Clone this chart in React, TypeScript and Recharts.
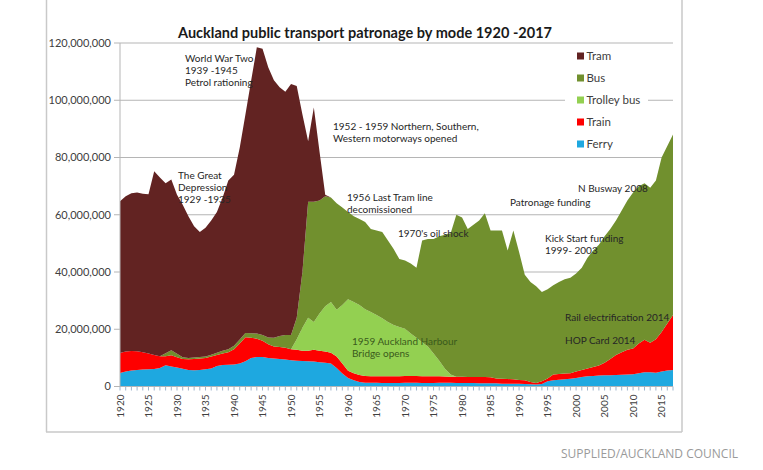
import React from 'react';
import { AreaChart, Area, XAxis, YAxis, CartesianGrid } from 'recharts';

// Patronage in millions of passenger trips per year
const years = [
  1920, 1921, 1922, 1923, 1924, 1925, 1926, 1927, 1928, 1929,
  1930, 1931, 1932, 1933, 1934, 1935, 1936, 1937, 1938, 1939,
  1940, 1941, 1942, 1943, 1944, 1945, 1946, 1947, 1948, 1949,
  1950, 1951, 1952, 1953, 1954, 1955, 1956, 1957, 1958, 1959,
  1960, 1961, 1962, 1963, 1964, 1965, 1966, 1967, 1968, 1969,
  1970, 1971, 1972, 1973, 1974, 1975, 1976, 1977, 1978, 1979,
  1980, 1981, 1982, 1983, 1984, 1985, 1986, 1987, 1988, 1989,
  1990, 1991, 1992, 1993, 1994, 1995, 1996, 1997, 1998, 1999,
  2000, 2001, 2002, 2003, 2004, 2005, 2006, 2007, 2008, 2009,
  2010, 2011, 2012, 2013, 2014, 2015, 2016, 2017,
];

const ferry = [
  4.7, 5.2, 5.6, 5.8, 5.9, 6.0, 6.1, 6.5, 7.4, 7.0,
  6.6, 6.2, 5.8, 5.7, 5.8, 6.0, 6.3, 7.2, 7.5, 7.6,
  7.7, 8.0, 8.8, 10.0, 10.3, 10.3, 10.0, 9.8, 9.6, 9.4,
  9.2, 9.0, 8.9, 8.8, 8.7, 8.5, 8.3, 8.0, 6.5, 4.5,
  3.0, 2.2, 1.6, 1.3, 1.3, 1.3, 1.2, 1.2, 1.2, 1.2,
  1.3, 1.3, 1.3, 1.2, 1.2, 1.2, 1.3, 1.3, 1.3, 1.2,
  1.2, 1.2, 1.2, 1.1, 1.1, 1.1, 1.1, 1.0, 1.0, 1.0,
  1.0, 0.9, 0.8, 0.7, 0.9, 1.8, 2.2, 2.4, 2.5, 2.7,
  3.0, 3.3, 3.6, 3.7, 3.8, 3.9, 3.9, 4.0, 4.1, 4.2,
  4.3, 4.6, 5.0, 5.0, 4.8, 5.2, 5.6, 5.8,
];

const train = [
  7.0, 7.0, 6.8, 6.5, 6.1, 5.5, 4.9, 4.1, 3.2, 3.9,
  3.6, 3.4, 3.7, 3.9, 4.0, 4.0, 4.2, 3.8, 4.0, 4.4,
  5.3, 7.0, 8.4, 7.0, 6.4, 5.7, 4.8, 4.2, 4.2, 4.1,
  3.8, 3.8, 3.6, 3.7, 4.1, 4.0, 3.9, 3.8, 4.0, 3.5,
  2.5, 2.4, 2.4, 2.4, 2.3, 2.3, 2.4, 2.4, 2.4, 2.4,
  2.4, 2.4, 2.4, 2.4, 2.4, 2.4, 2.3, 2.2, 2.1, 2.2,
  2.2, 2.1, 2.1, 2.2, 2.2, 2.1, 1.7, 1.7, 1.6, 1.5,
  1.3, 1.3, 0.8, 0.5, 0.9, 1.0, 2.0, 2.0, 2.0, 1.9,
  2.2, 2.5, 2.7, 3.1, 3.5, 4.4, 5.7, 7.0, 7.9, 8.6,
  9.0, 10.4, 11.3, 10.3, 11.7, 13.8, 16.4, 19.2,
];

const trolleyBus = [
  0, 0, 0, 0, 0, 0, 0, 0, 0, 0,
  0, 0, 0, 0, 0, 0, 0, 0, 0, 0,
  0, 0, 0, 0, 0, 0, 0, 0, 0, 0,
  0, 3.7, 8.0, 11.5, 9.7, 13.0, 15.8, 17.7, 16.3, 20.5,
  25.0, 24.9, 24.5, 23.3, 22.4, 21.4, 20.2, 18.9, 17.9, 17.2,
  16.5, 14.8, 13.3, 11.9, 10.4, 7.9, 5.4, 2.7, 0.8, 0,
  0, 0, 0, 0, 0, 0, 0, 0, 0, 0,
  0, 0, 0, 0, 0, 0, 0, 0, 0, 0,
  0, 0, 0, 0, 0, 0, 0, 0, 0, 0,
  0, 0, 0, 0, 0, 0, 0, 0,
];

const bus = [
  0, 0, 0, 0, 0, 0, 0, 0, 1.0, 1.8,
  1.2, 0.6, 0.5, 0.5, 0.5, 0.5, 0.6, 0.8, 1.0, 1.0,
  1.2, 1.4, 1.5, 1.6, 1.8, 2.0, 2.3, 3.0, 3.8, 4.5,
  5.0, 7.5, 19.5, 40.5, 42.0, 39.5, 38.5, 36.5, 37.2, 34.0,
  30.5, 30.0, 30.0, 30.5, 29.0, 29.5, 30.2, 28.5, 26.5, 23.7,
  23.8, 24.5, 24.5, 35.5, 37.5, 40.0, 43.5, 46.8, 49.3, 56.6,
  55.6, 51.7, 53.2, 54.7, 57.2, 51.3, 51.7, 51.8, 44.9, 52.0,
  44.7, 36.8, 34.9, 33.8, 31.2, 31.2, 31.2, 32.1, 33.0, 33.4,
  34.3, 35.7, 38.7, 40.7, 42.2, 44.2, 45.4, 47.0, 49.5, 52.2,
  54.5, 55.0, 54.7, 54.1, 55.5, 61.0, 62.0, 63.0,
];

const tram = [
  53.0, 54.3, 55.1, 55.5, 55.3, 55.7, 64.2, 62.4, 59.4, 59.6,
  55.6, 53.3, 49.5, 45.9, 43.7, 45.0, 46.9, 49.2, 53.5, 59.0,
  59.8, 67.0, 76.3, 88.2, 100.0, 100.0, 94.4, 90.0, 86.9, 85.0,
  87.7, 81.0, 55.0, 21.2, 33.0, 17.0, 0.5, 0, 0, 0,
  0, 0, 0, 0, 0, 0, 0, 0, 0, 0,
  0, 0, 0, 0, 0, 0, 0, 0, 0, 0,
  0, 0, 0, 0, 0, 0, 0, 0, 0, 0,
  0, 0, 0, 0, 0, 0, 0, 0, 0, 0,
  0, 0, 0, 0, 0, 0, 0, 0, 0, 0,
  0, 0, 0, 0, 0, 0, 0, 0,
];

const yTicks = [0, 20, 40, 60, 80, 100, 120];

const title = 'Auckland public transport patronage by mode 1920 -2017';

// stacking order bottom -> top
const SERIES = [
  { key: 'ferry', name: 'Ferry', color: '#1ea8e0', values: ferry },
  { key: 'train', name: 'Train', color: '#fe0000', values: train },
  { key: 'trolley', name: 'Trolley bus', color: '#93d051', values: trolleyBus },
  { key: 'bus', name: 'Bus', color: '#71902e', values: bus },
  { key: 'tram', name: 'Tram', color: '#622322', values: tram },
];

const annotations = [
  { x: 185, y: 62, lines: ['World War Two', '1939 -1945', 'Petrol rationing'], color: '#262626' },
  { x: 178, y: 178.5, lines: ['The Great', 'Depression', '1929 -1935'], color: '#262626' },
  { x: 333, y: 130, lines: ['1952 - 1959 Northern, Southern,', 'Western motorways opened'], color: '#262626' },
  { x: 347, y: 200.5, lines: ['1956 Last Tram line', 'decomissioned'], color: '#262626' },
  { x: 398, y: 236.5, lines: ["1970's oil shock"], color: '#262626' },
  { x: 510, y: 206, lines: ['Patronage funding'], color: '#262626' },
  { x: 578, y: 191.5, lines: ['N Busway 2008'], color: '#262626' },
  { x: 545, y: 241.5, lines: ['Kick Start funding', '1999- 2003'], color: '#262626' },
  { x: 565, y: 320.5, lines: ['Rail electrification 2014'], color: '#262626' },
  { x: 565, y: 344, lines: ['HOP Card 2014'], color: '#262626' },
  { x: 352, y: 345, lines: ['1959 Auckland Harbour', 'Bridge opens'], color: '#3a5a1c' },
];

const data = years.map((year, i) => {
  const row: Record<string, number> = { year };
  SERIES.forEach((s) => {
    row[s.key] = s.values[i];
  });
  return row;
});

const FONT = 'Lato, "Liberation Sans", Arial, sans-serif';

const XTick = (props: any) => {
  const { x, y, payload } = props;
  const v = payload.value as number;
  if (v % 5 !== 0) return <g />;
  return (
    <text
      x={x}
      y={y}
      transform={`rotate(-90, ${x}, ${y})`}
      textAnchor="end"
      dy="0.36em"
      fill="#404040"
      fontSize={10}
      fontFamily={FONT}
    >
      {v}
    </text>
  );
};

const fmt = (v: number) => (v * 1000000).toLocaleString('en-US');

export default function App() {
  const legendItems = [...SERIES].reverse();
  return (
    <div style={{ position: 'absolute', left: 0, top: 0, width: 763, height: 470, background: '#fff' }}>
      <AreaChart
        width={763}
        height={470}
        data={data}
        margin={{ top: 43, right: 90, left: 50, bottom: 53.5 }}
      >
        <CartesianGrid vertical={false} stroke="#b5b5b5" strokeWidth={1} />
        <XAxis
          dataKey="year"
          type="number"
          domain={[1920, 2017]}
          ticks={years}
          interval={0}
          height={30}
          tickSize={4}
          tickMargin={4}
          tickLine={{ stroke: '#9db4cb' }}
          axisLine={{ stroke: '#b5b5b5' }}
          tick={<XTick />}
        />
        <YAxis
          type="number"
          domain={[0, 120]}
          ticks={yTicks}
          width={70}
          tickSize={6}
          tickMargin={3}
          tickFormatter={fmt}
          tickLine={{ stroke: '#b5b5b5' }}
          axisLine={{ stroke: '#b5b5b5' }}
          tick={{ fill: '#404040', fontSize: 11, fontFamily: FONT }}
        />
        {SERIES.map((s) => (
          <Area
            key={s.key}
            dataKey={s.key}
            name={s.name}
            stackId="modes"
            type="linear"
            fill={s.color}
            fillOpacity={1}
            stroke="none"
            dot={false}
            activeDot={false}
            isAnimationActive={false}
          />
        ))}
      </AreaChart>
      <svg
        width={763}
        height={470}
        style={{ position: 'absolute', left: 0, top: 0, pointerEvents: 'none' }}
      >
        {/* frame */}
        <line x1={46.5} y1={0} x2={46.5} y2={432} stroke="#c9c9c9" strokeWidth={1.5} />
        <line x1={46} y1={432} x2={682} y2={432} stroke="#c9c9c9" strokeWidth={1.5} />
        <line x1={682} y1={0} x2={682} y2={432} stroke="#c9c9c9" strokeWidth={1.5} />
        {/* title */}
        <text
          x={365}
          y={38}
          textAnchor="middle"
          fontFamily={FONT}
          fontWeight="bold"
          fontSize={15.5}
          fill="#1a1a1a"
          textLength={374}
          lengthAdjust="spacingAndGlyphs"
        >
          {title}
        </text>
        {/* legend */}
        <rect x={565} y={47} width={83} height={107} fill="#fff" />
        {legendItems.map((s, i) => (
          <g key={s.key}>
            <rect x={577} y={52.5 + i * 22} width={7} height={7} fill={s.color} />
            <text
              x={586.5}
              y={60 + i * 22}
              fontFamily={FONT}
              fontSize={11.5}
              fill="#404040"
            >
              {s.name}
            </text>
          </g>
        ))}
        {/* annotations */}
        {annotations.map((a, i) => (
          <text key={i} x={a.x} y={a.y} fontFamily={FONT} fontSize={10} fill={a.color}>
            {a.lines.map((l, j) => (
              <tspan key={j} x={a.x} dy={j === 0 ? 0 : 12}>
                {l}
              </tspan>
            ))}
          </text>
        ))}
        {/* caption */}
        <text
          x={738}
          y={458}
          textAnchor="end"
          fontFamily='"Open Sans", sans-serif'
          fontSize={12}
          fill="#9a9a9a"
        >
          SUPPLIED/AUCKLAND COUNCIL
        </text>
      </svg>
    </div>
  );
}
